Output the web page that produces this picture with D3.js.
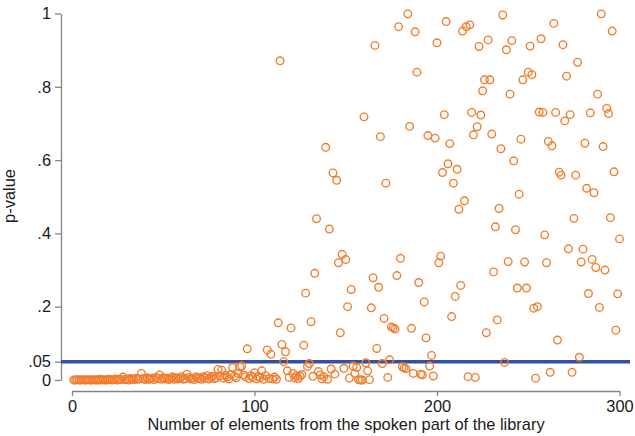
<!DOCTYPE html>
<html>
<head>
<meta charset="utf-8">
<script src="https://cdn.jsdelivr.net/npm/d3@7"></script>
<style>
  html, body { margin: 0; padding: 0; background: #fff; }
  svg { display: block; font-family: "Liberation Sans", Arial, Helvetica, sans-serif; }
</style>
</head>
<body>
<svg id="chart" width="635" height="436"></svg>
<script>
// p-value for each number of elements taken from the spoken part of the library (1..300)
const pValues = [
  // 1-20
  0.000, 0.000, 0.001, 0.000, 0.000, 0.001, 0.000, 0.000, 0.001, 0.000,
  0.000, 0.001, 0.000, 0.000, 0.002, 0.000, 0.001, 0.000, 0.000, 0.002,
  // 21-40
  0.001, 0.000, 0.001, 0.003, 0.000, 0.002, 0.001, 0.008, 0.001, 0.003,
  0.000, 0.004, 0.002, 0.001, 0.005, 0.002, 0.003, 0.018, 0.004, 0.001,
  // 41-60
  0.006, 0.002, 0.003, 0.005, 0.001, 0.007, 0.004, 0.014, 0.002, 0.006,
  0.003, 0.005, 0.001, 0.004, 0.008, 0.002, 0.006, 0.003, 0.005, 0.009,
  // 61-80
  0.002, 0.004, 0.016, 0.007, 0.003, 0.005, 0.001, 0.008, 0.004, 0.006,
  0.002, 0.009, 0.005, 0.012, 0.003, 0.007, 0.010, 0.004, 0.006, 0.029,
  // 81-100
  0.011, 0.027, 0.005, 0.013, 0.008, 0.003, 0.015, 0.034, 0.010, 0.006,
  0.018, 0.036, 0.038, 0.014, 0.009, 0.085, 0.004, 0.012, 0.007, 0.020,
  // 101-120
  0.003, 0.010, 0.006, 0.025, 0.002, 0.012, 0.082, 0.004, 0.070, 0.003,
  0.008, 0.002, 0.156, 0.871, 0.097, 0.050, 0.077, 0.025, 0.007, 0.142,
  // 121-140
  0.018, 0.006, 0.012, 0.004, 0.010, 0.015, 0.095, 0.237, 0.037, 0.045,
  0.159, 0.010, 0.291, 0.440, 0.023, 0.014, 0.003, 0.009, 0.635, 0.002,
  // 141-160
  0.412, 0.030, 0.565, 0.016, 0.545, 0.320, 0.129, 0.343, 0.032, 0.329,
  0.200, 0.005, 0.247, 0.038, 0.018, 0.034, 0.001, 0.000, 0.000, 0.718,
  // 161-180
  0.047, 0.025, 0.001, 0.197, 0.279, 0.913, 0.086, 0.253, 0.664, 0.045,
  0.168, 0.537, 0.007, 0.055, 0.145, 0.142, 0.139, 0.285, 0.964, 0.332,
  // 181-200
  0.036, 0.033, 0.031, 0.999, 0.692, 0.141, 0.018, 0.950, 0.840, 0.266,
  0.016, 0.014, 0.213, 0.115, 0.667, 0.038, 0.067, 0.011, 0.660, 0.920,
  // 201-220
  0.320, 0.338, 0.566, 0.724, 0.978, 0.590, 0.645, 0.173, 0.537, 0.228,
  0.575, 0.466, 0.258, 0.952, 0.489, 0.964, 0.009, 0.969, 0.730, 0.669,
  // 221-240
  0.007, 0.691, 0.910, 0.723, 0.789, 0.819, 0.129, 0.928, 0.819, 0.671,
  0.295, 0.418, 0.164, 0.468, 0.631, 0.996, 0.048, 0.901, 0.323, 0.780,
  // 241-260
  0.926, 0.598, 0.410, 0.251, 0.507, 0.657, 0.819, 0.322, 0.251, 0.840,
  0.911, 0.833, 0.196, 0.005, 0.200, 0.731, 0.931, 0.730, 0.396, 0.320,
  // 261-280
  0.651, 0.021, 0.639, 0.973, 0.730, 0.109, 0.567, 0.559, 0.915, 0.707,
  0.829, 0.358, 0.724, 0.021, 0.441, 0.559, 0.867, 0.062, 0.322, 0.357,
  // 281-300
  0.646, 0.523, 0.236, 0.729, 0.329, 0.511, 0.307, 0.780, 0.198, 0.999,
  0.637, 0.300, 0.741, 0.727, 0.443, 0.952, 0.568, 0.136, 0.235, 0.385
];

// Number of elements for each p-value
const elementCounts = pValues.map((_, i) => i + 1);

// Significance threshold drawn as a reference line
const threshold = 0.05;

// Axis ticks
const yTickValues = [0, 0.05, 0.2, 0.4, 0.6, 0.8, 1];
const yTickLabels = ["0", ".05", ".2", ".4", ".6", ".8", "1"];
const xTickValues = [0, 100, 200, 300];
const xTickLabels = ["0", "100", "200", "300"];

const xTitle = "Number of elements from the spoken part of the library";
const yTitle = "p-value";

const svg = d3.select("#chart");

const x = d3.scaleLinear().domain([0, 300]).range([72, 619.5]);
const y = d3.scaleLinear().domain([0, 1]).range([380, 13.5]);

const axisColor = "#858585";
const textColor = "#1a1a1a";
const fontSize = "16.4px";

// Y axis
const yAxis = svg.append("g")
  .attr("transform", "translate(61,0)")
  .call(d3.axisLeft(y)
    .tickValues(yTickValues)
    .tickFormat((d, i) => yTickLabels[i])
    .tickSize(6)
    .tickSizeOuter(0)
    .tickPadding(4));

// X axis
const xAxis = svg.append("g")
  .attr("transform", "translate(0,391)")
  .call(d3.axisBottom(x)
    .tickValues(xTickValues)
    .tickFormat((d, i) => xTickLabels[i])
    .tickSize(5)
    .tickSizeOuter(0)
    .tickPadding(4));

[yAxis, xAxis].forEach(g => {
  g.select(".domain").attr("stroke", axisColor).attr("stroke-width", 1.3);
  g.selectAll(".tick line").attr("stroke", axisColor).attr("stroke-width", 1.3);
  g.selectAll(".tick text")
    .attr("fill", textColor)
    .style("font-size", fontSize)
    .style("font-family", "'Liberation Sans', Arial, sans-serif");
});

// Axis titles
svg.append("text")
  .attr("x", 346)
  .attr("y", 430)
  .attr("text-anchor", "middle")
  .attr("fill", textColor)
  .style("font-size", fontSize)
  .text(xTitle);

svg.append("text")
  .attr("transform", "translate(15,196) rotate(-90)")
  .attr("text-anchor", "middle")
  .attr("fill", textColor)
  .style("font-size", fontSize)
  .text(yTitle);

// Threshold line
svg.append("line")
  .attr("x1", 61)
  .attr("x2", 630)
  .attr("y1", y(threshold))
  .attr("y2", y(threshold))
  .attr("stroke", "#34509e")
  .attr("stroke-width", 3.4);

// Points
svg.append("g")
  .selectAll("circle")
  .data(pValues)
  .join("circle")
  .attr("cx", (d, i) => x(elementCounts[i]))
  .attr("cy", d => y(d))
  .attr("r", 3.8)
  .attr("fill", "none")
  .attr("stroke", "#f27b2a")
  .attr("stroke-width", 1.35);
</script>
</body>
</html>
